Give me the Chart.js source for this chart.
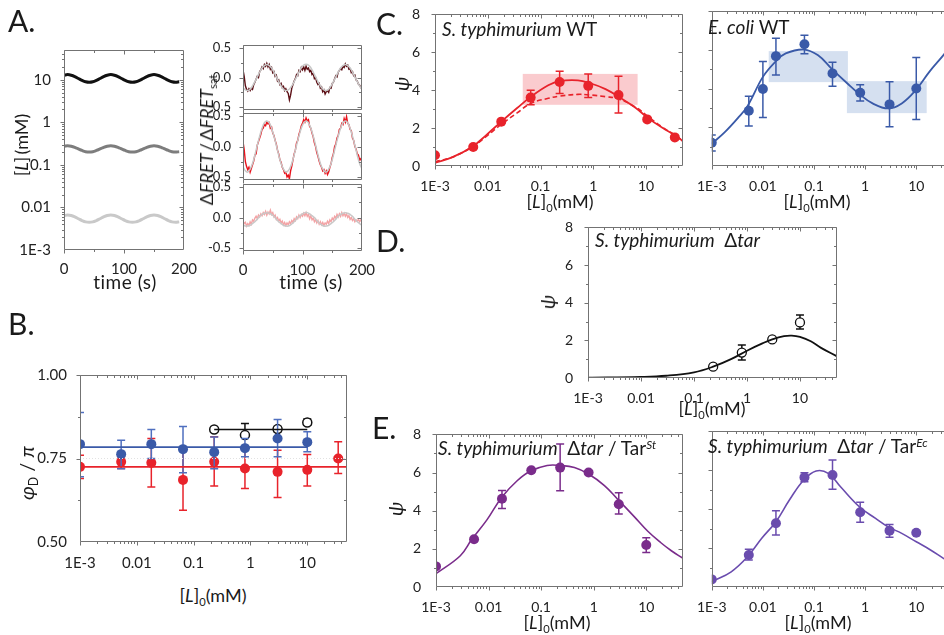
<!DOCTYPE html>
<html>
<head>
<meta charset="utf-8">
<script src="https://cdn.jsdelivr.net/npm/chart.js@4.4.1/dist/chart.umd.min.js"></script>
<style>
html, body { margin: 0; padding: 0; background: #fff; overflow: hidden; }
body { width: 944px; height: 635px; position: relative; font-family: Lato, "DejaVu Sans", sans-serif; color: #1a1a1a; }
canvas { position: absolute; }
.t { position: absolute; white-space: nowrap; line-height: 1; z-index: 5; }
.rot { transform: translate(-50%, -50%) rotate(-90deg); }
.ctr { transform: translate(-50%, -50%); }
.letter { font-size: 30px; }
.lab { font-size: 18px; }
.ttl { font-size: 19px; }
.sub { font-size: 62%; position: relative; top: 0.35em; }
.sup { font-size: 62%; position: relative; top: -0.55em; }
</style>
</head>
<body>
<script>
// ---------- A (left): stimulus concentration vs time ----------
const stimTimes = [0,6,12,18,24,30,36,42,48,54,60,66,72,78,84,90,96,102,108,114,120,126,132,138,144,150,156,162,168,174,180,186,192];
const stimHigh = [12.8,13.2,12.8,11.9,10.7,9.66,8.95,8.71,8.95,9.66,10.7,11.9,12.8,13.2,12.8,11.9,10.7,9.66,8.95,8.71,8.95,9.66,10.7,11.9,12.8,13.2,12.8,11.9,10.7,9.66,8.95,8.71,8.95];
const stimMid = [0.275,0.282,0.275,0.259,0.237,0.218,0.204,0.20,0.204,0.218,0.237,0.259,0.275,0.282,0.275,0.259,0.237,0.218,0.204,0.20,0.204,0.218,0.237,0.259,0.275,0.282,0.275,0.259,0.237,0.218,0.204,0.20,0.204];
const stimLow = [0.00644,0.0066,0.00644,0.00599,0.00543,0.00493,0.00458,0.00447,0.00458,0.00493,0.00543,0.00599,0.00644,0.0066,0.00644,0.00599,0.00543,0.00493,0.00458,0.00447,0.00458,0.00493,0.00543,0.00599,0.00644,0.0066,0.00644,0.00599,0.00543,0.00493,0.00458,0.00447,0.00458];

// ---------- A (right): FRET responses ----------
const fretTimes = [0,2,4,6,8,10,12,14,16,18,20,22,24,26,28,30,32,34,36,38,40,42,44,46,48,50,52,54,56,58,60,62,64,66,68,70,72,74,76,78,80,82,84,86,88,90,92,94,96,98,100,102,104,106,108,110,112,114,116,118,120,122,124,126,128,130,132,134,136,138,140,142,144,146,148,150,152,154,156,158,160,162,164,166,168,170,172,174,176,178,180,182,184,186,188,190,192,194,196,198,200];
const fretHigh = [0.13,0.02,-0.14,-0.20,-0.23,-0.19,-0.22,-0.18,-0.20,-0.12,
  -0.08,-0.03,0.02,0.00,0.10,0.13,0.18,0.15,0.22,0.19,
  0.24,0.18,0.22,0.14,0.17,0.08,0.10,0.02,0.04,-0.06,
  -0.04,-0.12,-0.10,-0.17,-0.15,-0.22,-0.19,-0.24,-0.27,-0.38,
  -0.30,-0.18,-0.12,-0.06,-0.02,0.05,0.03,0.12,0.10,0.17,
  0.13,0.18,0.12,0.19,0.14,0.16,0.10,0.12,0.05,0.07,
  -0.02,0.00,-0.08,-0.12,-0.10,-0.18,-0.16,-0.24,-0.21,-0.28,
  -0.24,-0.22,-0.25,-0.17,-0.18,-0.10,-0.08,-0.02,0.03,0.01,
  0.09,0.12,0.15,0.13,0.19,0.17,0.23,0.19,0.21,0.14,
  0.15,0.08,0.10,0.03,0.04,-0.04,-0.06,-0.11,-0.13,-0.17,
  -0.19];
const fretMid = [0.08,-0.05,-0.25,-0.33,-0.38,-0.34,-0.42,-0.36,-0.30,-0.24,
  -0.14,-0.12,0.02,0.08,0.14,0.20,0.28,0.30,0.36,0.34,
  0.40,0.37,0.39,0.30,0.32,0.22,0.18,0.10,0.04,-0.06,
  -0.12,-0.22,-0.26,-0.34,-0.38,-0.44,-0.42,-0.50,-0.47,-0.53,
  -0.40,-0.32,-0.22,-0.12,-0.06,0.06,0.10,0.20,0.26,0.34,
  0.38,0.44,0.40,0.47,0.42,0.44,0.33,0.30,0.22,0.16,
  0.06,0.00,-0.10,-0.16,-0.24,-0.30,-0.34,-0.40,-0.38,-0.44,
  -0.40,-0.46,-0.42,-0.34,-0.28,-0.18,-0.12,0.00,0.04,0.14,
  0.18,0.28,0.30,0.38,0.36,0.46,0.40,0.49,0.38,0.36,
  0.28,0.26,0.14,0.10,0.00,-0.04,-0.12,-0.14,-0.22,-0.20,
  -0.26];
const fretLow = [-0.06,-0.10,-0.08,-0.14,-0.10,-0.13,-0.07,-0.11,-0.04,-0.06,
  -0.01,0.02,-0.02,0.04,0.01,0.06,0.03,0.08,0.05,0.10,
  0.04,0.09,0.06,0.12,0.05,0.08,0.01,0.04,-0.03,0.00,
  -0.06,-0.03,-0.09,-0.06,-0.12,-0.08,-0.13,-0.09,-0.12,-0.07,
  -0.10,-0.05,-0.08,-0.02,-0.05,0.01,-0.02,0.04,0.00,0.05,
  0.02,0.07,0.03,0.08,0.02,0.05,-0.02,0.03,-0.04,-0.01,
  -0.07,-0.03,-0.09,-0.05,-0.11,-0.07,-0.12,-0.08,-0.13,-0.09,
  -0.11,-0.06,-0.10,-0.04,-0.07,-0.01,-0.04,0.02,-0.01,0.05,
  0.01,0.06,0.02,0.08,0.03,0.07,0.02,0.06,0.00,0.03,
  -0.03,0.00,-0.05,-0.02,-0.07,-0.04,-0.06,-0.03,-0.07,-0.04,
  -0.06];
const fitTimes = [0,4,8,12,16,20,24,28,32,36,40,44,48,52,56,60,64,68,72,76,80,84,88,92,96,100,104,108,112,116,120,124,128,132,136,140,144,148,152,156,160,164,168,172,176,180,184,188,192,196,200];
const fitHigh = [-0.17,-0.21,-0.22,-0.20,-0.14,-0.07,0.01,0.09,0.16,0.20,0.22,0.20,0.16,0.09,0.01,-0.07,-0.14,-0.20,-0.22,-0.21,-0.17,-0.11,-0.03,0.05,0.13,0.19,0.22,0.22,0.19,0.13,0.05,-0.03,-0.11,-0.17,-0.21,-0.22,-0.20,-0.14,-0.07,0.01,0.09,0.16,0.20,0.22,0.20,0.16,0.09,0.01,-0.07,-0.14,-0.20];
const fitMid = [-0.33,-0.40,-0.42,-0.37,-0.28,-0.14,0.02,0.17,0.30,0.39,0.42,0.39,0.30,0.17,0.02,-0.14,-0.28,-0.37,-0.42,-0.40,-0.33,-0.21,-0.06,0.10,0.24,0.35,0.41,0.41,0.35,0.24,0.10,-0.06,-0.21,-0.33,-0.40,-0.42,-0.37,-0.28,-0.14,0.02,0.17,0.30,0.39,0.42,0.39,0.30,0.17,0.02,-0.14,-0.28,-0.37];
const fitLow = [-0.12,-0.14,-0.14,-0.13,-0.10,-0.07,-0.03,0.02,0.05,0.07,0.08,0.07,0.05,0.02,-0.03,-0.07,-0.10,-0.13,-0.14,-0.14,-0.12,-0.09,-0.05,0.00,0.03,0.06,0.08,0.08,0.06,0.03,0.00,-0.05,-0.09,-0.12,-0.14,-0.14,-0.13,-0.10,-0.07,-0.03,0.02,0.05,0.07,0.08,0.07,0.05,0.02,-0.03,-0.07,-0.10,-0.13];

// ---------- B: phase delay ----------
const ecPhiDoses = [0.001, 0.0053, 0.018, 0.065, 0.23, 0.8, 3, 10];
const ecPhi   = [0.793, 0.763, 0.793, 0.778, 0.769, 0.781, 0.81, 0.799];
const ecPhiLo = [0.695, 0.719, 0.75, 0.707, 0.719, 0.755, 0.755, 0.77];
const ecPhiHi = [0.888, 0.805, 0.837, 0.846, 0.814, 0.81, 0.867, 0.83];
const ecPhiMeanX = [0.001, 10];
const ecPhiMeanY = [0.784, 0.784];
const stPhiDoses = [0.001, 0.0053, 0.018, 0.065, 0.23, 0.8, 3, 10, 35];
const stPhi   = [0.725, 0.74, 0.737, 0.686, 0.74, 0.72, 0.71, 0.716, 0.75];
const stPhiLo = [0.69, 0.72, 0.665, 0.595, 0.668, 0.66, 0.633, 0.668, 0.705];
const stPhiHi = [0.76, 0.755, 0.81, 0.78, 0.815, 0.78, 0.775, 0.762, 0.80];
const stPhiMeanX = [0.001, 50];
const stPhiMeanY = [0.725, 0.725];
const dtarPhiDoses = [0.23, 0.8, 3, 10];
const dtarPhi   = [0.837, 0.82, 0.838, 0.858];
const dtarPhiLo = [null, 0.82, 0.83, 0.85];
const dtarPhiHi = [null, 0.855, 0.846, 0.868];
const dtarPhiMeanX = [0.23, 10];
const dtarPhiMeanY = [0.837, 0.837];
const phiRefX = [0.001, 50];
const phiRefY = [0.75, 0.75];

// ---------- C: S. typhimurium WT ----------
const stwtDoses = [0.001, 0.0053, 0.018, 0.065, 0.23, 0.8, 3, 10.5, 35];
const stwtPsi = [0.57, 1.0, 2.34, 3.61, 4.43, 4.23, 3.75, 2.46, 1.51];
const stwtLo  = [null, null, null, 3.23, 3.83, 3.62, 2.8, null, null];
const stwtHi  = [null, null, null, 4.0, 5.0, 4.85, 4.74, null, null];
const stwtFitX = [0.001,0.0022,0.005,0.0098,0.018,0.036,0.066,0.14,0.23,0.51,0.85,1.7,3,6.2,10.7,20,39,50];
const stwtFitY = [0.17,0.48,1.0,1.68,2.34,3.06,3.66,4.26,4.48,4.52,4.38,4.06,3.66,3.09,2.54,2.03,1.55,1.29];
const stwtAltY = [0.22,0.48,1.0,1.6,2.2,2.8,3.31,3.57,3.69,3.78,3.75,3.66,3.54,3.12,2.63,2.06,1.55,1.29];
const stwtBoxX = [0.046, 6.9];
const stwtBoxY = [3.23, 4.86];

// ---------- C: E. coli WT ----------
const ecDoses = [0.001, 0.0053, 0.01, 0.018, 0.065, 0.23, 0.8, 3, 10];
const ecPsi = [1.2, 2.85, 3.97, 5.67, 6.28, 4.78, 3.78, 3.18, 4.0];
const ecLo  = [0.77, 2.06, 2.5, 4.7, 5.8, 4.12, 3.35, 2.03, 2.4];
const ecHi  = [1.6, 3.6, 5.4, 6.6, 6.75, 5.36, 4.2, 4.35, 5.6];
const ecFitX = [0.001,0.0018,0.0032,0.005,0.01,0.018,0.028,0.063,0.12,0.22,0.45,0.79,1.4,2.8,5.2,10,18,34,50];
const ecFitY = [1.15,1.75,2.46,3.09,4.6,5.41,5.81,6.01,5.72,5.03,4.26,3.69,3.23,2.97,3.23,3.95,4.86,5.72,6.3];
const ecBox1X = [0.013, 0.46];
const ecBox1Y = [4.33, 5.93];
const ecBox2X = [0.44, 16];
const ecBox2Y = [2.73, 4.38];

// ---------- D: S. typhimurium delta-tar ----------
const dtarDoses = [0.23, 0.8, 3, 10];
const dtarPsi = [0.6, 1.35, 2.05, 2.95];
const dtarLo  = [null, 0.95, 1.95, 2.6];
const dtarHi  = [null, 1.75, 2.15, 3.35];
const dtarFitX = [0.001,0.01,0.03,0.1,0.23,0.5,1,2,3,5,7,10,16,25,50];
const dtarFitY = [0.02,0.06,0.12,0.3,0.6,1.0,1.45,1.85,2.05,2.22,2.25,2.18,1.95,1.6,1.15];

// ---------- E: delta-tar complemented with Tar(St) / Tar(Ec) ----------
const tarStDoses = [0.001, 0.0053, 0.018, 0.065, 0.23, 0.8, 3, 10];
const tarStPsi = [1.08, 2.5, 4.63, 6.12, 6.26, 6.0, 4.34, 2.2];
const tarStLo  = [null, null, 4.12, null, 5.04, null, 3.83, 1.81];
const tarStHi  = [null, null, 5.06, null, 7.5, null, 4.94, 2.58];
const tarStFitX = [0.001,0.0029,0.0048,0.0093,0.018,0.035,0.063,0.13,0.23,0.43,0.81,1.6,2.8,5.9,10.7,19,30,50];
const tarStFitY = [0.70,1.64,2.5,3.52,4.72,5.57,6.08,6.37,6.37,6.26,5.91,5.32,4.63,3.69,2.92,2.32,1.9,1.5];
const tarEcDoses = [0.001, 0.0053, 0.018, 0.065, 0.23, 0.8, 3, 10];
const tarEcPsi = [0.39, 1.64, 3.27, 5.62, 5.74, 3.83, 2.89, 2.78];
const tarEcLo  = [null, 1.38, 2.67, 5.4, 5.01, 3.32, 2.55, null];
const tarEcHi  = [null, 1.93, 3.91, 5.86, 6.51, 4.34, 3.21, null];
const tarEcFitX = [0.001,0.0024,0.005,0.0095,0.018,0.033,0.063,0.11,0.19,0.33,0.79,1.6,2.8,5.2,10,19,34,50];
const tarEcFitY = [0.27,0.78,1.55,2.5,3.35,4.46,5.49,5.95,5.83,5.14,4.09,3.52,3.09,2.75,2.32,1.9,1.47,1.2];

// ---------- shared axis ticks ----------
const doseTicks = [0.001, 0.01, 0.1, 1, 10];
const doseLabels = ['1E-3', '0.01', '0.1', '1', '10'];
const psiTicks = [0, 2, 4, 6, 8];
const psiLabels = ['0', '2', '4', '6', '8'];
const psiMinor = [1, 3, 5, 7];
const concTicks = [0.001, 0.01, 0.1, 1, 10];
const concLabels = ['1E-3', '0.01', '0.1', '1', '10'];
const timeTicks = [0, 100, 200];
const timeLabels = ['0', '100', '200'];
const timeMinor = [50, 150];
const fretTicks = [-0.5, 0, 0.5];
const fretLabels = ['-0.5', '0.0', '0.5'];
const fretMinor = [-0.25, 0.25];
const phiTicks = [0.5, 0.75, 1.0];
const phiLabels = ['0.50', '0.75', '1.00'];
const phiMinor = [0.625, 0.875];

// ---------- colours ----------
const RED = '#e8232b', RED_BOX = 'rgba(240,110,120,0.36)';
const BLUE = '#3a5aa8', BLUE_BOX = 'rgba(150,178,218,0.40)';
const PURPLE = '#7a2c8b', VIOLET = '#6a4cae';
const AXIS = '#737373';

Chart.defaults.font.family = 'Lato, "DejaVu Sans", sans-serif';

const pts = (xs, ys) => xs.map((x, i) => ({ x: x, y: ys[i] }));

function logMinors(min, max) {
  const out = [];
  for (let e = Math.floor(Math.log10(min)); e <= Math.ceil(Math.log10(max)); e++) {
    for (let m = 2; m <= 9; m++) {
      const v = m * Math.pow(10, e);
      if (v > min && v < max) out.push(v);
    }
  }
  return out;
}

// frame round the plotting area, with major / minor ticks on every side
const framePlugin = {
  id: 'frame',
  afterDraw(chart, args, o) {
    const { ctx, chartArea: a, scales: { x, y } } = chart;
    const L = Math.round(a.left) + 0.5, R = Math.round(a.right) - 0.5;
    const T = Math.round(a.top) + 0.5, B = Math.round(a.bottom) - 0.5;
    ctx.save();
    ctx.strokeStyle = AXIS;
    ctx.lineWidth = 1;
    ctx.beginPath();
    ctx.rect(L, T, R - L, B - T);
    const xt = (vals, len) => vals.forEach(v => {
      const p = Math.round(x.getPixelForValue(v)) + 0.5;
      if (p < L - 0.1 || p > R + 0.1) return;
      ctx.moveTo(p, B); ctx.lineTo(p, B + len);
      ctx.moveTo(p, T); ctx.lineTo(p, T + len);
    });
    const yt = (vals, len) => vals.forEach(v => {
      const p = Math.round(y.getPixelForValue(v)) + 0.5;
      if (p < T - 0.1 || p > B + 0.1) return;
      ctx.moveTo(L, p); ctx.lineTo(L - len, p);
      ctx.moveTo(R, p); ctx.lineTo(R - len, p);
    });
    xt(o.xMajor || [], 4); xt(o.xMinor || [], 2.5);
    yt(o.yMajor || [], 4); yt(o.yMinor || [], 2.5);
    ctx.stroke();
    ctx.restore();
  }
};

// shaded ranges behind the data
const boxPlugin = {
  id: 'boxes',
  beforeDatasetsDraw(chart, args, o) {
    const { ctx, chartArea: a, scales: { x, y } } = chart;
    ctx.save();
    ctx.beginPath(); ctx.rect(a.left, a.top, a.width, a.height); ctx.clip();
    (o.list || []).forEach(b => {
      const x0 = x.getPixelForValue(b.x[0]), x1 = x.getPixelForValue(b.x[1]);
      const y0 = y.getPixelForValue(b.y[0]), y1 = y.getPixelForValue(b.y[1]);
      ctx.fillStyle = b.color;
      ctx.fillRect(x0, y1, x1 - x0, y0 - y1);
    });
    ctx.restore();
  }
};

// vertical error bars, drawn just before their dataset's markers
const errorPlugin = {
  id: 'errbars',
  beforeDatasetDraw(chart, args) {
    const ds = chart.data.datasets[args.index];
    if (!ds.lo) return;
    const { ctx, chartArea: a, scales: { x, y } } = chart;
    ctx.save();
    ctx.beginPath(); ctx.rect(a.left, a.top - 1, a.width, a.height + 2); ctx.clip();
    ctx.strokeStyle = ds.errColor || ds.borderColor;
    ctx.lineWidth = 1.5;
    ctx.beginPath();
    ds.data.forEach((p, i) => {
      const lo = ds.lo[i], hi = ds.hi[i];
      if (lo == null) return;
      const px = x.getPixelForValue(p.x), y0 = y.getPixelForValue(lo), y1 = y.getPixelForValue(hi);
      ctx.moveTo(px, y0); ctx.lineTo(px, y1);
      ctx.moveTo(px - 4, y0); ctx.lineTo(px + 4, y0);
      ctx.moveTo(px - 4, y1); ctx.lineTo(px + 4, y1);
    });
    ctx.stroke();
    ctx.restore();
  }
};

function axis(c, dir, size) {
  return {
    type: c.log ? 'logarithmic' : 'linear',
    min: c.min, max: c.max,
    grid: { display: false }, border: { display: false },
    afterFit(s) { if (dir === 'x') s.height = size; else s.width = size; },
    afterBuildTicks(s) { s.ticks = c.ticks.map(v => ({ value: v })); },
    ticks: {
      display: !!c.labels,
      autoSkip: false, maxRotation: 0, minRotation: 0,
      padding: c.pad != null ? c.pad : (dir === 'x' ? 4 : 7),
      font: { size: c.fs || 14 },
      color: '#222',
      callback(v, i) { return c.labels ? c.labels[i] : ''; }
    }
  };
}

function plot(o) {
  const [L, T, R, B] = o.area;
  const ml = o.ml || 48, mt = 12, mr = 26, mb = o.mb || 26;
  const cv = document.createElement('canvas');
  const w = R - L + ml + mr, h = B - T + mt + mb;
  cv.width = w; cv.height = h;
  cv.style.left = (L - ml) + 'px'; cv.style.top = (T - mt) + 'px';
  cv.style.width = w + 'px'; cv.style.height = h + 'px';
  document.body.appendChild(cv);
  const xMinor = o.x.minor || (o.x.log ? logMinors(o.x.min, o.x.max) : []);
  const yMinor = o.y.minor || (o.y.log ? logMinors(o.y.min, o.y.max) : []);
  return new Chart(cv, {
    type: 'scatter',
    data: { datasets: o.datasets },
    options: {
      responsive: false, animation: false, devicePixelRatio: 1,
      layout: { padding: { top: mt, right: mr, left: 0, bottom: 0 } },
      plugins: {
        legend: { display: false }, tooltip: { enabled: false },
        frame: { xMajor: o.x.ticks, xMinor: xMinor, yMajor: o.y.ticks, yMinor: yMinor },
        boxes: { list: o.boxes || [] }
      },
      scales: { x: axis(o.x, 'x', mb), y: axis(o.y, 'y', ml) }
    },
    plugins: [boxPlugin, errorPlugin, framePlugin]
  });
}

const curve = (xs, ys, color, width, extra) => Object.assign({
  data: pts(xs, ys), showLine: true, pointRadius: 0, borderColor: color,
  borderWidth: width, tension: 0.4, fill: false
}, extra || {});
const dots = (xs, ys, lo, hi, color, extra) => Object.assign({
  data: pts(xs, ys), showLine: false, pointRadius: 5, pointHoverRadius: 5,
  backgroundColor: color, borderColor: color, borderWidth: 0, lo: lo, hi: hi
}, extra || {});

const doseAxis = { log: true, min: 0.001, max: 50, ticks: doseTicks, labels: doseLabels };
const doseAxisBare = Object.assign({}, doseAxis);
const psiAxis = { min: 0, max: 8, ticks: psiTicks, labels: psiLabels, minor: psiMinor };
const psiAxisBare = { min: 0, max: 8, ticks: psiTicks, labels: null, minor: psiMinor };

// A left
plot({
  area: [64, 48, 184, 250], ml: 44,
  x: { min: 0, max: 200, ticks: timeTicks, labels: timeLabels, minor: timeMinor, fs: 15, pad: 2 },
  y: { log: true, min: 0.001, max: 50, ticks: concTicks, labels: concLabels, fs: 15, pad: 5 },
  datasets: [
    curve(stimTimes, stimLow, '#c9c9c9', 3),
    curve(stimTimes, stimMid, '#7d7d7d', 3),
    curve(stimTimes, stimHigh, '#111111', 3)
  ]
});

// A right, three stacked responses
const fretPanels = [
  { area: [243, 45, 362, 110], obs: fretHigh, fit: fitHigh, color: '#5c0f15' },
  { area: [243, 113, 362, 180], obs: fretMid, fit: fitMid, color: '#e8131c' },
  { area: [243, 184, 362, 251], obs: fretLow, fit: fitLow, color: '#f3a3a5' }
];
fretPanels.forEach((p, i) => plot({
  area: p.area, ml: 40,
  x: { min: 0, max: 200, ticks: timeTicks, labels: i === 2 ? timeLabels : null, minor: timeMinor, fs: 15, pad: 2 },
  y: { min: -0.55, max: 0.55, ticks: fretTicks, labels: fretLabels, minor: fretMinor, fs: 13, pad: 4 },
  datasets: [
    curve(fitTimes, p.fit, '#c8c8c8', 1.5),
    curve(fretTimes, p.obs, p.color, 1.4, { tension: 0 })
  ]
}));

// B
plot({
  area: [80, 373, 347, 542], ml: 56, mb: 28,
  x: Object.assign({}, doseAxis, { fs: 15 }),
  y: { min: 0.5, max: 1.0, ticks: phiTicks, labels: phiLabels, minor: phiMinor, fs: 15, pad: 5 },
  datasets: [
    curve(phiRefX, phiRefY, '#e2e2e2', 1, { tension: 0, borderDash: [1, 2] }),
    curve(stPhiMeanX, stPhiMeanY, RED, 1.6, { tension: 0 }),
    curve(ecPhiMeanX, ecPhiMeanY, BLUE, 1.6, { tension: 0 }),
    curve(dtarPhiMeanX, dtarPhiMeanY, '#111', 1.6, { tension: 0 }),
    dots(ecPhiDoses, ecPhi, ecPhiLo, ecPhiHi, BLUE, { errColor: '#4f6fbf' }),
    dots(stPhiDoses, stPhi, stPhiLo, stPhiHi, RED),
    dots(dtarPhiDoses, dtarPhi, dtarPhiLo, dtarPhiHi, '#111',
      { backgroundColor: '#fff', borderColor: '#111', borderWidth: 1.5, pointRadius: 4.5 })
  ]
});

// C left
plot({
  area: [435, 11, 683, 166],
  x: doseAxis, y: psiAxis,
  boxes: [{ x: stwtBoxX, y: stwtBoxY, color: RED_BOX }],
  datasets: [
    curve(stwtFitX, stwtAltY, RED, 1.6, { borderDash: [5, 3] }),
    curve(stwtFitX, stwtFitY, RED, 1.8),
    dots(stwtDoses, stwtPsi, stwtLo, stwtHi, RED)
  ]
});

// C right
plot({
  area: [703, 11, 952, 166], ml: 10,
  x: doseAxisBare, y: psiAxisBare,
  boxes: [{ x: ecBox1X, y: ecBox1Y, color: BLUE_BOX }, { x: ecBox2X, y: ecBox2Y, color: BLUE_BOX }],
  datasets: [
    curve(ecFitX, ecFitY, BLUE, 1.8),
    dots(ecDoses, ecPsi, ecLo, ecHi, BLUE)
  ]
});

// D
plot({
  area: [588, 224, 837, 378],
  x: doseAxis, y: psiAxis,
  datasets: [
    curve(dtarFitX, dtarFitY, '#111', 1.8),
    dots(dtarDoses, dtarPsi, dtarLo, dtarHi, '#111',
      { backgroundColor: '#fff', borderColor: '#111', borderWidth: 1.3, pointRadius: 4.5 })
  ]
});

// E left
plot({
  area: [436, 431, 683, 587],
  x: doseAxis, y: psiAxis,
  datasets: [
    curve(tarStFitX, tarStFitY, PURPLE, 1.6),
    dots(tarStDoses, tarStPsi, tarStLo, tarStHi, PURPLE)
  ]
});

// E right
plot({
  area: [703, 431, 952, 587], ml: 10,
  x: doseAxisBare, y: psiAxisBare,
  datasets: [
    curve(tarEcFitX, tarEcFitY, VIOLET, 1.6),
    dots(tarEcDoses, tarEcPsi, tarEcLo, tarEcHi, VIOLET)
  ]
});
</script>

<!-- panel letters -->
<div class="t letter" style="left:8px;top:5px;">A.</div>
<div class="t letter" style="left:8px;top:308px;">B.</div>
<div class="t letter" style="left:376px;top:8px;">C.</div>
<div class="t letter" style="left:376px;top:225px;">D.</div>
<div class="t letter" style="left:372px;top:412px;">E.</div>

<!-- A labels -->
<div class="t lab rot" style="left:21px;top:145px;">[<i>L</i>]&thinsp;(mM)</div>
<div class="t lab ctr" style="left:125px;top:281px;font-size:19px;letter-spacing:0.5px;">time (s)</div>
<div class="t lab ctr" style="left:311px;top:281px;font-size:19px;letter-spacing:0.5px;">time (s)</div>
<div class="t lab rot" style="left:206px;top:140px;font-size:18px;">Δ<i>FRET</i>&thinsp;/&thinsp;Δ<i>FRET</i><span class="sub">sat</span></div>

<!-- B labels -->
<div class="t lab rot" style="left:26px;top:473px;font-size:20px;"><i>φ</i><span class="sub">D</span> / <i>π</i></div>
<div class="t lab ctr" style="left:213px;top:595px;">[<i>L</i>]<span class="sub">0</span>(mM)</div>

<!-- C labels -->
<div class="t lab rot" style="left:401px;top:84px;font-size:20px;"><i>ψ</i></div>
<div class="t ttl" style="left:442px;top:19px;"><i>S. typhimurium</i> WT</div>
<div class="t ttl" style="left:708px;top:17px;"><i>E. coli</i> WT</div>
<div class="t lab ctr" style="left:560px;top:201px;">[<i>L</i>]<span class="sub">0</span>(mM)</div>
<div class="t lab ctr" style="left:817px;top:201px;">[<i>L</i>]<span class="sub">0</span>(mM)</div>

<!-- D labels -->
<div class="t lab rot" style="left:547px;top:302px;font-size:20px;"><i>ψ</i></div>
<div class="t ttl" style="left:595px;top:230px;"><i>S. typhimurium</i>&nbsp; Δ<i>tar</i></div>
<div class="t lab ctr" style="left:712px;top:408px;">[<i>L</i>]<span class="sub">0</span>(mM)</div>

<!-- E labels -->
<div class="t lab rot" style="left:395px;top:509px;font-size:20px;"><i>ψ</i></div>
<div class="t ttl" style="left:438px;top:438px;"><i>S. typhimurium</i>&nbsp; Δ<i>tar</i> / Tar<span class="sup"><i>St</i></span></div>
<div class="t ttl" style="left:708px;top:436px;"><i>S. typhimurium</i>&nbsp; Δ<i>tar</i> / Tar<span class="sup"><i>Ec</i></span></div>
<div class="t lab ctr" style="left:557px;top:622px;">[<i>L</i>]<span class="sub">0</span>(mM)</div>
<div class="t lab ctr" style="left:818px;top:622px;">[<i>L</i>]<span class="sub">0</span>(mM)</div>
</body>
</html>
